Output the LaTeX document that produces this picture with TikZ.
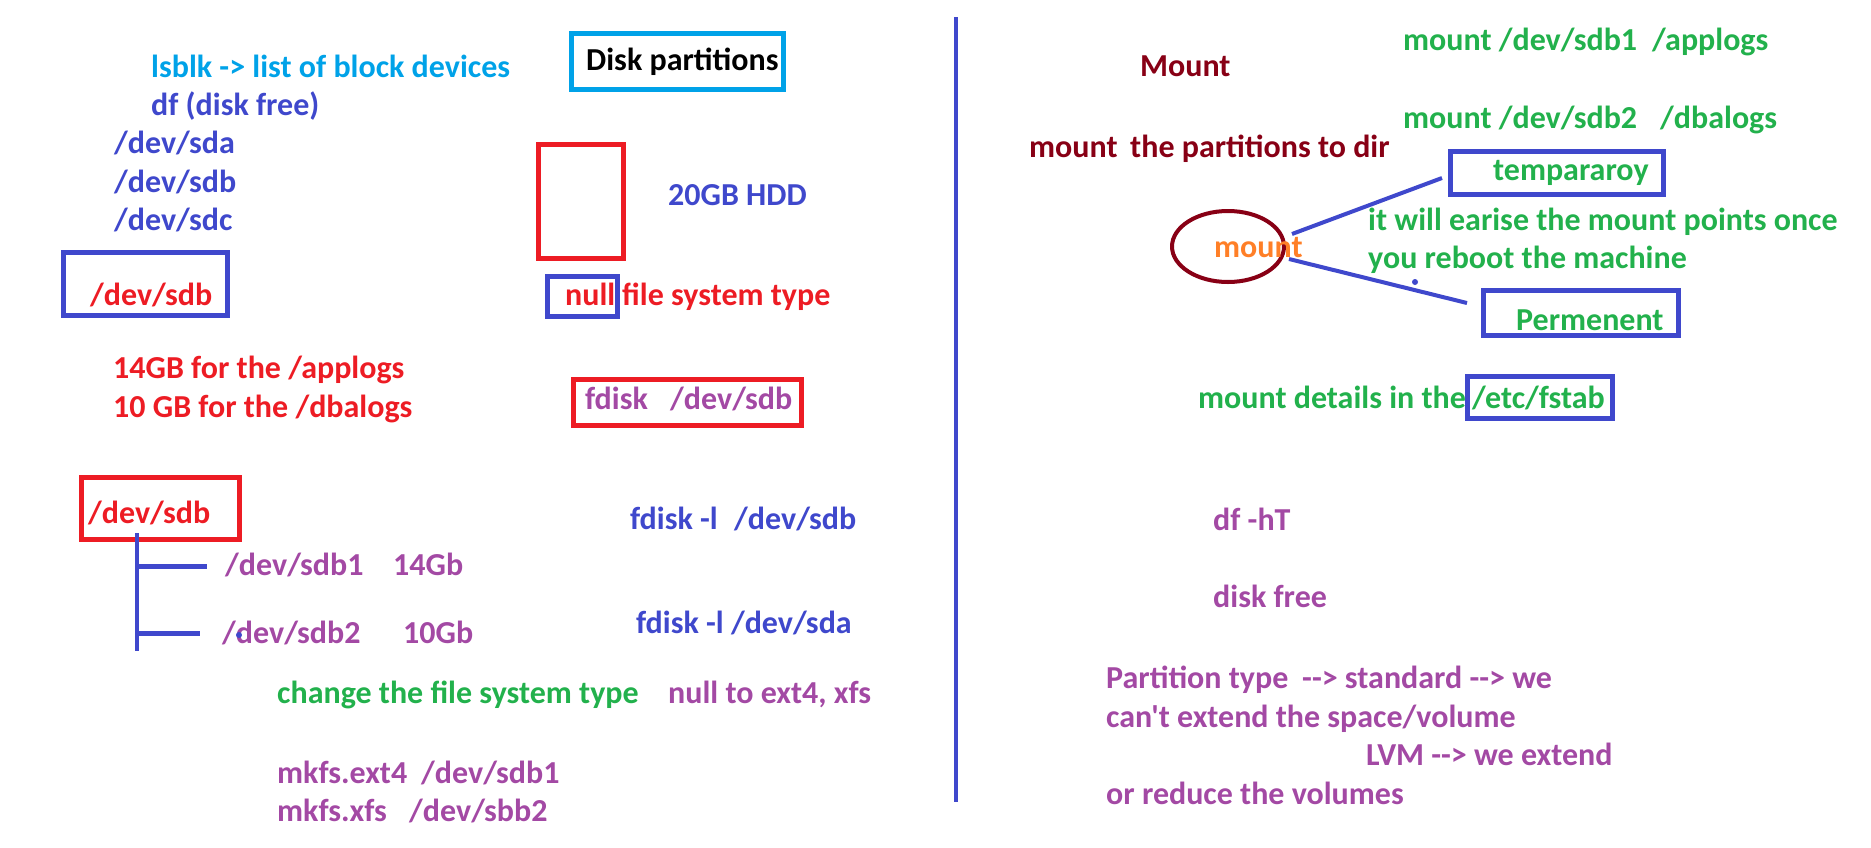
\documentclass[tikz,border=0pt]{standalone}
\usepackage{fontspec}
\setmainfont{Carlito}[Ligatures=TeXOff]
\usetikzlibrary{shapes.geometric}
\definecolor{pblue}{HTML}{3F48CC}
\definecolor{plight}{HTML}{00A2E8}
\definecolor{pred}{HTML}{ED1C24}
\definecolor{pdark}{HTML}{880015}
\definecolor{pgreen}{HTML}{22B14C}
\definecolor{ppurple}{HTML}{A349A4}
\definecolor{porange}{HTML}{FF7F27}
\tikzset{
  txt/.style={anchor=base west, inner sep=0pt, font=\fontsize{32}{38}\selectfont\bfseries},
  frame/.style={draw, line width=5pt, rectangle, inner sep=0pt},
  pen/.style={line width=4pt, draw=pblue},
}
\begin{document}
\begin{tikzpicture}[x=1pt,y=-1pt]
\useasboundingbox (0,0) rectangle (1871,847);
% left column
\node[txt, plight] (lsblk) at (151,77) {lsblk -> list of block devices};
\node[txt, pblue] (df) at (151,115) {df (disk free)};
\node[txt, pblue] (sda) at (114,153) {/dev/sda};
\node[txt, pblue] (sdb) at (114,192) {/dev/sdb};
\node[txt, pblue] (sdc) at (114,230) {/dev/sdc};
\node[frame, pblue, minimum width=164pt, minimum height=63pt] (box1) at (145.5,284) {};
\node[txt, pred] (sdbred) at (90,305) {/dev/sdb};
\node[txt, pred] (gb14) at (113,378) {14GB for the /applogs};
\node[txt, pred] (gb10) at (113,417) {10 GB for the /dbalogs};
% middle column
\node[frame, plight, minimum width=212pt, minimum height=56pt] (dpbox) at (677.5,61.5) {};
\node[txt, black] (dp) at (586,70) {Disk partitions};
\node[frame, pred, minimum width=85pt, minimum height=114pt] (hdd) at (581,201.5) {};
\node[txt, pblue] (hddt) at (668,205) {20GB HDD};
\node[frame, pblue, minimum width=70pt, minimum height=40pt] (nullbox) at (582.5,296.5) {};
\node[txt, pred] (null) at (565,305) {null};
\node[txt, pred] (fst) at (622,305) {file system type};
\node[frame, pred, minimum width=228pt, minimum height=46pt] (fdbox) at (687.5,402.5) {};
\node[txt, ppurple] (fd1) at (585,409) {fdisk};
\node[txt, ppurple] (fd2) at (670,409) {/dev/sdb};
% tree
\node[frame, pred, minimum width=158pt, minimum height=62pt] (box2) at (160.5,508.5) {};
\node[txt, pred] (sdb2red) at (88,523) {/dev/sdb};
\coordinate (tt) at (137,533);
\coordinate (tb) at (137,651);
\coordinate (b1s) at (137,566);
\coordinate (b1e) at (207,566);
\coordinate (b2s) at (137,633);
\coordinate (b2e) at (200,633);
\draw[pen] (tt) -- (tb);
\draw[pen, line width=5pt] (b1s) -- (b1e);
\draw[pen, line width=5pt] (b2s) -- (b2e);
\node[txt, ppurple] (p1) at (225,575) {/dev/sdb1};
\node[txt, ppurple] (p1s) at (393,575) {14Gb};
\node[txt, ppurple] (p2) at (222,643) {/dev/sdb2};
\node[txt, ppurple] (p2s) at (403,643) {10Gb};
\fill[pblue] (239,635) circle (3pt);
\node[txt, pblue] (fl1a) at (630,529) {fdisk -l};
\node[txt, pblue] (fl1b) at (734,529) {/dev/sdb};
\node[txt, pblue] (fl2) at (636,633) {fdisk -l /dev/sda};
\node[txt, pgreen] (chg) at (277,703) {change the file system type};
\node[txt, ppurple] (n2e) at (668,703) {null to ext4, xfs};
\node[txt, ppurple] (mk1a) at (277,783) {mkfs.ext4};
\node[txt, ppurple] (mk1b) at (421,783) {/dev/sdb1};
\node[txt, ppurple] (mk2a) at (277,821) {mkfs.xfs};
\node[txt, ppurple] (mk2b) at (409,821) {/dev/sbb2};
% divider
\coordinate (dtop) at (956,17);
\coordinate (dbot) at (956,802);
\draw[pen] (dtop) -- (dbot);
% right column
\node[txt, pdark] (Mount) at (1140,76) {Mount};
\node[txt, pgreen] (m1a) at (1403,50) {mount /dev/sdb1};
\node[txt, pgreen] (m1b) at (1652,50) {/applogs};
\node[txt, pgreen] (m2a) at (1403,128) {mount /dev/sdb2};
\node[txt, pgreen] (m2b) at (1660,128) {/dbalogs};
\node[txt, pdark] (mp1) at (1029,157) {mount};
\node[txt, pdark] (mp2) at (1130,157) {the partitions to dir};
\node[frame, pblue, minimum width=213pt, minimum height=43pt] (tempbox) at (1557,173) {};
\node[txt, pgreen] (temp) at (1493,180) {tempararoy};
\node[ellipse, draw=pdark, line width=4pt, minimum width=112pt, minimum height=71pt, inner sep=0pt] (circ) at (1228,246.5) {};
\node[txt, porange] (mnt) at (1214,257) {mount};
\node[txt, pgreen] (e1) at (1368,230) {it will earise the mount points once};
\node[txt, pgreen] (e2) at (1368,268) {you reboot the machine};
\node[frame, pblue, minimum width=195pt, minimum height=45pt] (permbox) at (1581,313) {};
\node[txt, pgreen] (perm) at (1516,330) {Permenent};
\coordinate (ta) at (1292,234);
\coordinate (tz) at (1442,178);
\coordinate (pa) at (1289,259);
\coordinate (pz) at (1467,303);
\draw[pen] (ta) -- (tz);
\draw[pen] (pa) -- (pz);
\fill[pblue] (1415,282) circle (3pt);
\node[frame, pblue, minimum width=145pt, minimum height=42pt] (fstabbox) at (1540,397.5) {};
\node[txt, pgreen] (md) at (1198,408) {mount details in the};
\node[txt, pgreen] (fstab) at (1472,408) {/etc/fstab};
\node[txt, ppurple] (dfh) at (1213,530) {df -hT};
\node[txt, ppurple] (dfree) at (1213,607) {disk free};
\node[txt, ppurple] (pt1) at (1106,688) {Partition type};
\node[txt, ppurple] (pt2) at (1302,688) {--> standard --> we};
\node[txt, ppurple] (pt3) at (1106,727) {can't extend the space/volume};
\node[txt, ppurple] (lvm) at (1366,765) {LVM --> we extend};
\node[txt, ppurple] (red) at (1106,804) {or reduce the volumes};
\end{tikzpicture}
\end{document}
